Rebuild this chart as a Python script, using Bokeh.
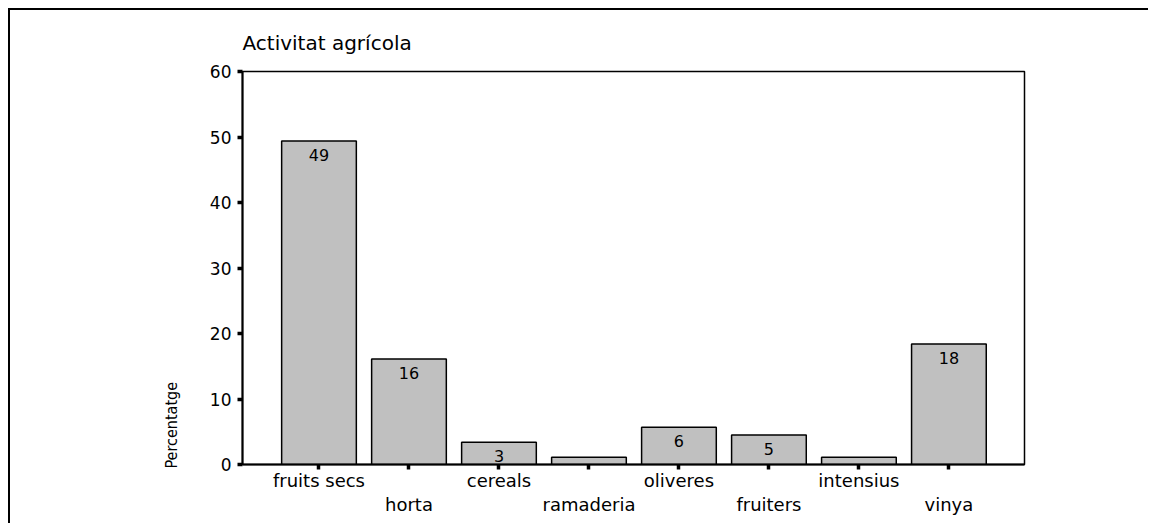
from bokeh.plotting import figure
from bokeh.models import ColumnDataSource, Range1d, FixedTicker, LinearAxis, Title
from bokeh.core.properties import value
from bokeh.embed import file_html
from bokeh.resources import INLINE

categories = ["fruits secs", "horta", "cereals", "ramaderia", "oliveres", "fruiters", "intensius", "vinya"]
percent = [49.4, 16.1, 3.4, 1.1, 5.7, 4.5, 1.1, 18.4]
bar_labels = ["49", "16", "3", "", "6", "5", "", "18"]
y_ticks = [0, 10, 20, 30, 40, 50, 60]

FONT = "DejaVu Sans"
xs = list(range(len(categories)))
src = ColumnDataSource(dict(x=xs, top=percent, lab=bar_labels, cat=categories))

p = figure(output_backend="svg", toolbar_location=None,
           frame_width=782, frame_height=393,
           min_border_left=232, min_border_top=61, min_border_right=124, min_border_bottom=59,
           x_range=Range1d(-0.85, 7.84), y_range=Range1d(0, 60),
           x_axis_type=None, y_axis_location="left")
p.styles = {"border-top": "2px solid black", "border-left": "2px solid black",
            "margin-left": "8px", "margin-top": "8px"}

p.xgrid.visible = False
p.ygrid.visible = False
p.outline_line_color = "black"
p.outline_line_width = 1.5
p.background_fill_color = "white"
p.border_fill_color = "white"

p.title.text = "Activitat agrícola"
p.title.text_font = FONT
p.title.text_font_style = "normal"
p.title.text_font_size = "20px"
p.title.text_color = "black"
p.title.align = "left"
p.title.standoff = 33

p.vbar(x="x", top="top", bottom=0, width=0.83, source=src,
       fill_color="#c0c0c0", line_color="black", line_width=1.5)
p.text(x="x", y="top", text="lab", source=src, y_offset=8,
       text_align="center", text_baseline="top",
       text_font=value(FONT), text_font_size="16px", text_color="black")

# y axis
ya = p.yaxis[0]
ya.ticker = FixedTicker(ticks=y_ticks)
ya.minor_tick_line_color = None
ya.major_tick_in = 0
ya.major_tick_out = 5
ya.major_tick_line_width = 3.5
ya.major_tick_line_color = "black"
ya.axis_line_width = 2
ya.axis_line_color = "black"
ya.major_label_text_font = FONT
ya.major_label_text_font_size = "17px"
ya.major_label_text_color = "black"
ya.major_label_standoff = 6

# y axis title as a left-side title aligned to the bottom
ytitle = Title(text="Percentatge", align="left", offset=-4, standoff=51,
               text_font="DejaVu Sans Condensed", text_font_size="16px",
               text_font_style="normal", text_color="black")
p.add_layout(ytitle, "left")

# x axes: staggered labels
ax1 = LinearAxis(ticker=FixedTicker(ticks=xs),
                 major_label_overrides={i: (c if i % 2 == 0 else "") for i, c in enumerate(categories)})
ax2 = LinearAxis(ticker=FixedTicker(ticks=xs),
                 major_label_overrides={i: (c if i % 2 == 1 else "") for i, c in enumerate(categories)})
for ax in (ax1, ax2):
    ax.minor_tick_line_color = None
    ax.major_label_text_font = FONT
    ax.major_label_text_font_size = "18px"
    ax.major_label_text_color = "black"
ax1.major_tick_in = 0
ax1.major_tick_out = 5
ax1.major_tick_line_width = 3.5
ax1.axis_line_width = 2
ax1.major_label_standoff = 0
ax2.axis_line_color = None
ax2.major_tick_line_color = None
ax2.major_tick_in = 0
ax2.major_tick_out = 0
ax2.major_label_standoff = 0
p.add_layout(ax1, "below")
p.add_layout(ax2, "below")

open("out.html", "w").write(file_html(p, INLINE))
